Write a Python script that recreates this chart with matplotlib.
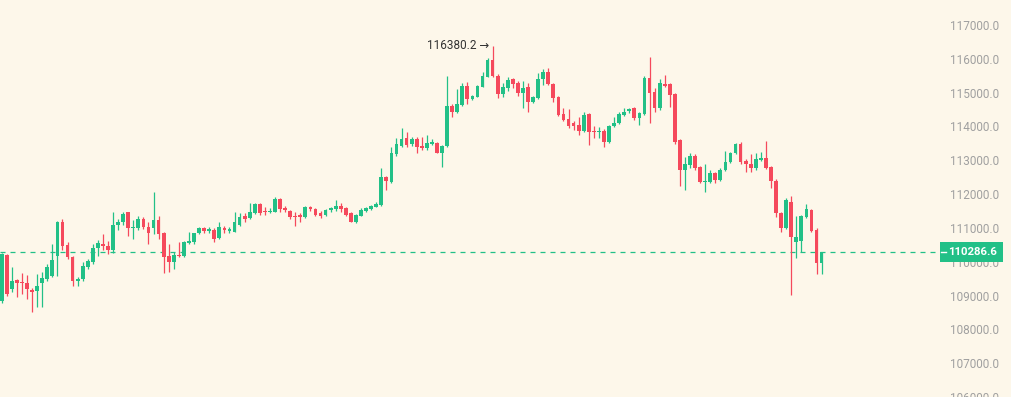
import matplotlib.pyplot as plt
import numpy as np
from matplotlib.patches import Rectangle

# OHLC, one entry per candle (left to right)
opens = [108830, 110190, 109180, 109450, 109390, 109360, 109150, 109120, 109360, 109480,
         109570, 110160, 111160, 110480, 110130, 109420, 109480, 109830, 109980, 110420,
         110510, 110450, 110360, 111100, 111160, 111460, 111010, 111010, 111250, 111040,
         111010, 111220, 110860, 110160, 109980, 110190, 110160, 110540, 110570, 110840,
         111010, 110920, 110950, 110690, 111010, 110920, 110890, 111100, 111340, 111280,
         111430, 111720, 111480, 111460, 111460, 111840, 111600, 111510, 111340, 111370,
         111310, 111630, 111570, 111430, 111370, 111540, 111570, 111660, 111600, 111430,
         111160, 111340, 111510, 111570, 111630, 111690, 112490, 112370, 113170, 113430,
         113670, 113490, 113640, 113430, 113370, 113490, 113520, 113220, 113430, 114610,
         114430, 114640, 115200, 114820, 114880, 115170, 115470, 115970, 115500, 114970,
         115140, 115410, 115290, 115000, 115170, 114730, 114850, 115410, 115610, 115260,
         114880, 114380, 114230, 114110, 114050, 113870, 114380, 113870, 113840, 113870,
         113550, 114020, 114110, 114350, 114460, 114550, 114260, 114380, 115440, 115020,
         114550, 115260, 115260, 114970, 113610, 112720, 112870, 113140, 112810, 112370,
         112370, 112610, 112430, 112720, 112960, 113200, 113490, 112990, 112900, 112780,
         113020, 113080, 112810, 112400, 111430, 111010, 111780, 110570, 110600, 111310,
         111540, 110950, 109950]
highs = [110250, 110220, 109830, 109480, 109660, 109600, 109210, 109630, 109690, 109920,
         110510, 111190, 111250, 110570, 110160, 109540, 109980, 110070, 110510, 110630,
         110810, 110600, 111460, 111250, 111460, 111480, 111220, 111340, 111310, 111160,
         112070, 111340, 110890, 110510, 110300, 110570, 110600, 110890, 110860, 111040,
         111040, 111040, 111010, 111160, 111070, 111040, 111460, 111430, 111430, 111750,
         111750, 111750, 111630, 111600, 111900, 111870, 111660, 111540, 111460, 111430,
         111660, 111660, 111600, 111510, 111570, 111630, 111810, 111750, 111630, 111460,
         111400, 111600, 111630, 111690, 111780, 112780, 112520, 113400, 113670, 113960,
         113840, 113700, 113700, 113700, 113760, 113640, 113550, 113460, 115500, 114670,
         115110, 115290, 115320, 114940, 115230, 115610, 116030, 116380.2, 115560, 115290,
         115470, 115440, 115350, 115350, 115290, 114910, 115580, 115700, 115730, 115290,
         114910, 114550, 114520, 114170, 114290, 114430, 114410, 114020, 113990, 113930,
         114050, 114290, 114430, 114550, 114550, 114580, 114430, 115500, 116060, 115140,
         115410, 115530, 115290, 115000, 113640, 113110, 113220, 113170, 112840, 112900,
         112720, 112660, 112780, 113280, 113250, 113520, 113550, 113050, 113170, 113220,
         113250, 113580, 112840, 112460, 111460, 111870, 111930, 111340, 111370, 111720,
         111570, 111010, 110300]
lows = [108770, 108980, 109100, 108950, 109040, 108890, 108510, 108650, 108650, 109420,
        109540, 109570, 110360, 110070, 109270, 109270, 109420, 109770, 109920, 110160,
        110360, 110220, 110270, 110950, 111100, 110750, 110660, 110950, 110980, 110510,
        110810, 110660, 109680, 109710, 109770, 110130, 110130, 110510, 110510, 110810,
        110860, 110840, 110570, 110660, 110860, 110860, 110890, 111070, 111160, 111250,
        111400, 111370, 111370, 111430, 111460, 111460, 111460, 111250, 111070, 111160,
        111280, 111510, 111340, 111280, 111340, 111480, 111510, 111480, 111340, 111160,
        111130, 111340, 111480, 111540, 111630, 111660, 112130, 112340, 113140, 113400,
        113400, 113430, 113220, 113310, 113310, 113460, 113220, 112810, 113400, 114290,
        114400, 114610, 114670, 114790, 114880, 115170, 115470, 115470, 114850, 114880,
        115050, 115140, 114910, 114550, 114430, 114700, 114820, 115230, 115230, 114730,
        114320, 114170, 113960, 113900, 113760, 113840, 113460, 113670, 113670, 113400,
        113520, 113990, 114080, 114320, 114410, 114200, 114050, 114350, 114110, 114430,
        114490, 115170, 114580, 113490, 112250, 112130, 112780, 112720, 112340, 112050,
        112340, 112340, 112400, 112690, 112930, 113170, 112900, 112660, 112660, 112720,
        112990, 112750, 112190, 111310, 110890, 110980, 109010, 110100, 110300, 111280,
        110890, 109650, 109650]
closes = [110220, 109040, 109420, 109360, 109360, 109180, 109100, 109270, 109510, 109830,
          110040, 111160, 110450, 110130, 109420, 109480, 109860, 110010, 110420, 110540,
          110450, 110360, 111100, 111160, 111400, 111010, 111040, 111250, 111040, 110860,
          111220, 110810, 110130, 109980, 110190, 110160, 110570, 110600, 110860, 111010,
          110920, 110980, 110660, 111040, 110950, 110980, 111160, 111310, 111250, 111460,
          111720, 111430, 111460, 111480, 111840, 111570, 111540, 111310, 111310, 111310,
          111630, 111570, 111370, 111340, 111540, 111600, 111660, 111570, 111370, 111160,
          111370, 111540, 111600, 111660, 111720, 112490, 112400, 113220, 113490, 113640,
          113460, 113640, 113400, 113370, 113520, 113550, 113220, 113430, 114610, 114430,
          114670, 115200, 114820, 114910, 115200, 115500, 115970, 115500, 114970, 115170,
          115380, 115260, 115000, 115140, 114730, 114880, 115410, 115610, 115260, 114850,
          114350, 114200, 114020, 114020, 113870, 114350, 113840, 113840, 113870, 113550,
          114020, 114110, 114380, 114430, 114520, 114260, 114410, 115440, 115000, 114550,
          115290, 115200, 114940, 113550, 112720, 112900, 113140, 112780, 112370, 112400,
          112610, 112430, 112720, 112960, 113200, 113490, 112960, 112900, 112780, 113050,
          113080, 112780, 112400, 111430, 111010, 111810, 110720, 110720, 111340, 111570,
          110920, 109950, 110286.6]

price_ticks = [106000, 107000, 108000, 109000, 110000, 111000,
               112000, 113000, 114000, 115000, 116000, 117000]
last_price = 110286.6
peak_idx = 97
peak_text = "116380.2 \u2192"

bg = '#fdf7ea'
up = '#22c087'
down = '#f5495c'

plt.rcParams['font.family'] = ['Roboto', 'DejaVu Sans']

fig = plt.figure(figsize=(10.11, 3.97), dpi=100, facecolor=bg)
ax = fig.add_axes([0, 0, 940 / 1011, 1])
ax.set_facecolor(bg)

o = np.array(opens)
h = np.array(highs)
l = np.array(lows)
c = np.array(closes)
x = np.arange(len(c))
cols = np.where(c >= o, up, down)

# wicks then bodies
ax.vlines(x, l, h, colors=cols, linewidth=0.9, zorder=2)
body = np.maximum(np.abs(c - o), 30)
ax.bar(x, body, bottom=np.minimum(o, c), width=0.74, color=cols, linewidth=0, zorder=3)

# current price line
ax.axhline(last_price, color=up, linestyle=(0, (4, 4)), linewidth=0.9, zorder=1)

ax.set_xlim(-0.34, 185.4)
ax.set_ylim(106027, 117738)

for s in ax.spines.values():
    s.set_visible(False)
ax.set_xticks([])
ax.yaxis.tick_right()
ax.set_yticks(price_ticks)
ax.set_yticklabels([f"{v:.1f}" for v in price_ticks])
ax.tick_params(axis='y', length=0, pad=7.3, labelsize=8.5, labelcolor='#a0a0a0')

# price tag on the right axis
ytr = ax.get_yaxis_transform()
ax.add_patch(Rectangle((1.0, last_price - 300), 63 / 940, 600, transform=ytr,
                       facecolor=up, edgecolor='none', clip_on=False, zorder=5))
ax.plot([1.0015, 1.006], [last_price, last_price], transform=ytr, color='white',
        linewidth=1, clip_on=False, zorder=6)
ax.text(1.0085, last_price, f"{last_price:.1f}", transform=ytr, ha='left', va='center',
        fontsize=8.2, fontweight='bold', family='Roboto', color='white',
        clip_on=False, zorder=6)

# highest price marker
ax.text(peak_idx - 0.6, highs[peak_idx], peak_text, ha='right', va='center',
        fontsize=8.5, color='#333333', zorder=4)

fig.savefig('out.png', dpi=100, facecolor=bg)
